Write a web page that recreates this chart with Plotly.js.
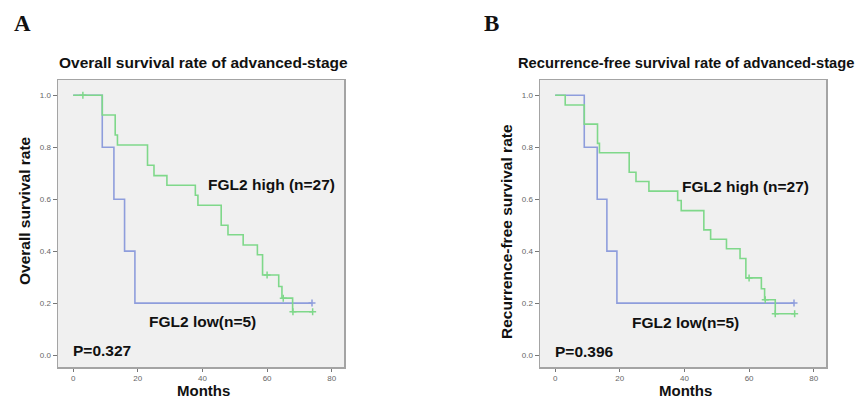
<!DOCTYPE html>
<html>
<head>
<meta charset="utf-8">
<script src="https://cdn.plot.ly/plotly-3.0.1.min.js"></script>
<style>html,body{margin:0;padding:0;background:#fff;}#chart{width:861px;height:400px;}</style>
</head>
<body>
<div id="chart"></div>
<script>
// Panel A: overall survival
const osHighT = [0, 9, 13, 13.7, 23, 25, 29, 37.8, 38.6, 45.8, 47.9, 52.6, 57, 58.6, 63.6, 64.6, 67.9, 74.1];
const osHighS = [1, 0.924, 0.847, 0.809, 0.731, 0.691, 0.654, 0.615, 0.577, 0.5, 0.463, 0.424, 0.386, 0.308, 0.264, 0.219, 0.167, 0.167];
const osHighCensT = [3, 60, 65, 68, 74.1];
const osHighCensS = [1, 0.308, 0.219, 0.167, 0.167];
const osLowT = [0, 9, 12.6, 15.9, 19.1, 73.9];
const osLowS = [1, 0.8, 0.6, 0.4, 0.2, 0.2];
const osLowCensT = [73.9];
const osLowCensS = [0.2];

// Panel B: recurrence-free survival
const rfsHighT = [0, 3.1, 9, 13.1, 13.7, 22.9, 25, 29, 37.9, 39, 46, 48.1, 53, 57.2, 59, 63.8, 64.8, 68.1, 74.1];
const rfsHighS = [1, 0.963, 0.889, 0.815, 0.779, 0.704, 0.668, 0.631, 0.595, 0.556, 0.482, 0.446, 0.409, 0.372, 0.297, 0.255, 0.213, 0.159, 0.159];
const rfsHighCensT = [60, 65, 68.1, 74.1];
const rfsHighCensS = [0.297, 0.213, 0.159, 0.159];
const rfsLowT = [0, 9, 13, 16, 19.1, 73.9];
const rfsLowS = [1, 0.8, 0.6, 0.4, 0.2, 0.2];
const rfsLowCensT = [73.9];
const rfsLowCensS = [0.2];

const xTicks = [0, 20, 40, 60, 80];
const yTicks = [0, 0.2, 0.4, 0.6, 0.8, 1.0];

const GREEN = '#7fd88a';
const BLUE = '#8e9ddc';
const FONT = 'Liberation Sans, Arial, sans-serif';

function step(x, y, color, xa, ya) {
  return {x: x, y: y, type: 'scatter', mode: 'lines', line: {shape: 'hv', color: color, width: 1.6},
          xaxis: xa, yaxis: ya, hoverinfo: 'skip', showlegend: false};
}
function cens(x, y, color, xa, ya) {
  return {x: x, y: y, type: 'scatter', mode: 'markers',
          marker: {symbol: 'cross-thin', size: 5, line: {color: color, width: 1.5}, color: color},
          xaxis: xa, yaxis: ya, hoverinfo: 'skip', showlegend: false};
}

const traces = [
  step(osLowT, osLowS, BLUE, 'x', 'y'),
  step(osHighT, osHighS, GREEN, 'x', 'y'),
  cens(osLowCensT, osLowCensS, BLUE, 'x', 'y'),
  cens(osHighCensT, osHighCensS, GREEN, 'x', 'y'),
  step(rfsLowT, rfsLowS, BLUE, 'x2', 'y2'),
  step(rfsHighT, rfsHighS, GREEN, 'x2', 'y2'),
  cens(rfsLowCensT, rfsLowCensS, BLUE, 'x2', 'y2'),
  cens(rfsHighCensT, rfsHighCensS, GREEN, 'x2', 'y2')
];

function xax(domain, anchor) {
  return {domain: domain, anchor: anchor, range: [-4.7, 83.8], tickvals: xTicks, ticktext: xTicks.map(String),
          showgrid: false, zeroline: false, showline: true, mirror: true, linecolor: '#a4a4a4', linewidth: 1.5,
          ticks: 'outside', ticklen: 3, tickcolor: '#777', tickwidth: 1,
          tickfont: {family: FONT, size: 8, color: '#666'}, fixedrange: true};
}
function yax(anchor) {
  return {domain: [0.0825, 0.8], anchor: anchor, range: [-0.046, 1.059], tickvals: yTicks,
          ticktext: yTicks.map(v => v.toFixed(1)),
          showgrid: false, zeroline: false, showline: true, mirror: true, linecolor: '#a4a4a4', linewidth: 1.5,
          ticks: 'outside', ticklen: 4, tickcolor: '#777', tickwidth: 1,
          tickfont: {family: FONT, size: 8, color: '#666'}, fixedrange: true};
}

function txt(text, x, y, xref, yref, size, opts) {
  return Object.assign({text: text, x: x, y: y, xref: xref, yref: yref, showarrow: false,
          xanchor: 'left', yanchor: 'middle', font: {family: FONT, size: size, color: '#111'}}, opts || {});
}
const SERIF = {family: 'Liberation Serif, Times New Roman, serif', size: 23, color: '#111'};

const annotations = [
  txt('<b>A</b>', 12/861, 1 - 23/400, 'paper', 'paper', 23, {font: SERIF}),
  txt('<b>B</b>', 482/861, 1 - 23/400, 'paper', 'paper', 23, {font: SERIF}),
  txt('<b>Overall survival rate of advanced-stage</b>', 57/861, 1 - 63/400, 'paper', 'paper', 15.5),
  txt('<b>Recurrence-free survival rate of advanced-stage</b>', 516/861, 1 - 63/400, 'paper', 'paper', 14.7),
  txt('<b>Overall survival rate</b>', 24/861, 1 - 211/400, 'paper', 'paper', 15.5, {xanchor: 'center', textangle: -90}),
  txt('<b>Recurrence-free survival rate</b>', 506/861, 1 - 231/400, 'paper', 'paper', 15.5, {xanchor: 'center', textangle: -90}),
  txt('<b>Months</b>', 203/861, 0, 'paper', 'paper', 15, {xanchor: 'center', yanchor: 'bottom', borderpad: 0}),
  txt('<b>Months</b>', 685/861, 0, 'paper', 'paper', 15, {xanchor: 'center', yanchor: 'bottom', borderpad: 0}),
  txt('<b>FGL2 high (n=27)</b>', 41.2, 0.658, 'x', 'y', 15.5),
  txt('<b>FGL2 low(n=5)</b>', 22.7, 0.131, 'x', 'y', 15.5),
  txt('<b>P=0.327</b>', -0.8, 0.019, 'x', 'y', 15.5),
  txt('<b>FGL2 high (n=27)</b>', 38.5, 0.65, 'x2', 'y2', 15.5),
  txt('<b>FGL2 low(n=5)</b>', 23.0, 0.127, 'x2', 'y2', 15.5),
  txt('<b>P=0.396</b>', -0.8, 0.015, 'x2', 'y2', 15.5)
];

const layout = {
  width: 861, height: 400,
  margin: {l: 0, r: 0, t: 0, b: 0},
  paper_bgcolor: '#ffffff', plot_bgcolor: '#f0f0f0',
  showlegend: false,
  xaxis: xax([58/861, 344/861], 'y'),
  yaxis: yax('x'),
  xaxis2: xax([540/861, 826/861], 'y2'),
  yaxis2: yax('x2'),
  annotations: annotations
};

Plotly.newPlot('chart', traces, layout, {displayModeBar: false, staticPlot: true});
</script>
</body>
</html>
